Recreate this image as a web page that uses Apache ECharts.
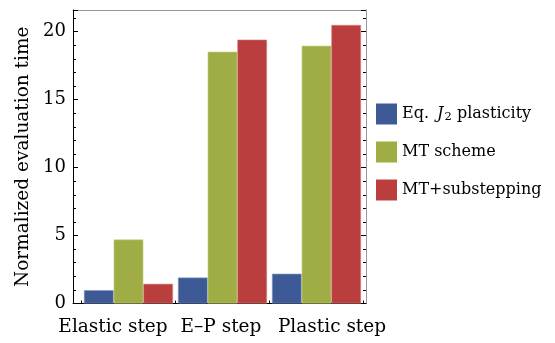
<!DOCTYPE html>
<html>
<head>
<meta charset="utf-8">
<script src="https://cdn.jsdelivr.net/npm/echarts@6/dist/echarts.min.js"></script>
<style>html,body{margin:0;padding:0;background:#fff}#c{width:555px;height:343px}</style>
</head>
<body>
<div id="c"></div>
<script>
var categories = ['Elastic step', 'E\u2013P step', 'Plastic step'];
var seriesNames = ['Eq. J2 plasticity', 'MT scheme', 'MT+substepping'];
var eqJ2 = [0.98, 1.91, 2.19];
var mtScheme = [4.71, 18.53, 18.97];
var mtSub = [1.45, 19.42, 20.5];
var yTicks = [0, 5, 10, 15, 20];
var yTitle = 'Normalized evaluation time';

var colors = ['#3d5a96', '#a0ad45', '#ba3e3e'];
var borders = ['#7f95c0', '#c9d28a', '#d88686'];
var FONT = "'DejaVu Serif', serif";
var YMAX = 21.6;

var chart = echarts.init(document.getElementById('c'), null, {renderer: 'canvas'});

function mkSeries(name, data, i) {
  return {
    name: name, type: 'bar', xAxisIndex: 2, yAxisIndex: 2,
    data: data, barGap: '0%', barCategoryGap: '5.3%',
    itemStyle: {color: colors[i], borderColor: borders[i], borderWidth: 0.6},
    emphasis: {disabled: true}, silent: true
  };
}

var option = {
  animation: false,
  backgroundColor: '#fff',
  grid: [
    {left: 73, top: 10, right: 189, bottom: 39.5},
    {left: 73, top: 10, right: 189, bottom: 39.5},
    {left: 81.5, top: 10, right: 191.5, bottom: 39.5}
  ],
  xAxis: [
    {type: 'value', gridIndex: 0, min: 0, max: 1, position: 'bottom',
     axisLine: {show: true, onZero: false, lineStyle: {color: '#000', width: 1}},
     axisTick: {show: false}, axisLabel: {show: false}, splitLine: {show: false}},
    {type: 'value', gridIndex: 1, min: 0, max: 1, position: 'top',
     axisLine: {show: true, onZero: false, lineStyle: {color: '#999', width: 1}},
     axisTick: {show: false}, axisLabel: {show: false}, splitLine: {show: false}},
    {type: 'category', gridIndex: 2, data: categories, position: 'bottom',
     axisLine: {show: false, onZero: false},
     axisTick: {show: true, inside: true, length: 3, lineStyle: {color: '#000'}},
     axisLabel: {
       interval: 0, hideOverlap: false,
       margin: 14, color: '#000', fontFamily: FONT, fontSize: 18.5,
       formatter: function (v, i) { return '{' + ['a', 'b', 'c'][i] + '|' + v + '}'; },
       rich: {
         a: {fontFamily: FONT, fontSize: 18.5, color: '#000', padding: [0, 31, 0, 0]},
         b: {fontFamily: FONT, fontSize: 18.5, color: '#000', padding: [0, 3, 0, 0]},
         c: {fontFamily: FONT, fontSize: 18.5, color: '#000', padding: [0, 0, 0, 31]}
       }
     },
     splitLine: {show: false}}
  ],
  yAxis: [
    {type: 'value', gridIndex: 0, min: 0, max: YMAX, interval: 5, position: 'left',
     name: yTitle, nameLocation: 'middle', nameGap: 37,
     nameTextStyle: {fontFamily: FONT, fontSize: 18.5, color: '#000'},
     axisLine: {show: true, onZero: false, lineStyle: {color: '#000', width: 1}},
     axisTick: {show: true, inside: true, length: 5, lineStyle: {color: '#000'}},
     minorTick: {show: true, splitNumber: 5, length: 3, lineStyle: {color: '#000'}},
     axisLabel: {margin: 7, color: '#000', fontFamily: FONT, fontSize: 18,
       customValues: yTicks},
     splitLine: {show: false}},
    {type: 'value', gridIndex: 1, min: 0, max: YMAX, interval: 5, position: 'right',
     axisLine: {show: true, onZero: false, lineStyle: {color: '#999', width: 1}},
     axisTick: {show: true, inside: true, length: 5, lineStyle: {color: '#000'}},
     minorTick: {show: true, splitNumber: 5, length: 3, lineStyle: {color: '#000'}},
     axisLabel: {show: false}, splitLine: {show: false}},
    {type: 'value', gridIndex: 2, min: 0, max: YMAX, show: false, splitLine: {show: false}}
  ],
  legend: {
    orient: 'vertical', left: 376, top: 103.5, padding: 0,
    icon: 'rect',
    itemWidth: 21, itemHeight: 21, itemGap: 17, itemStyle: {borderWidth: 0},
    selectedMode: false,
    data: seriesNames,
    formatter: function (n) {
      if (n === seriesNames[0]) return '{n|Eq. }{i|J}{s|2}{n| plasticity}';
      return '{n|' + n + '}';
    },
    textStyle: {
      fontFamily: FONT, fontSize: 16, color: '#000',
      rich: {
        n: {fontFamily: FONT, fontSize: 16, color: '#000'},
        i: {fontFamily: FONT, fontSize: 16, fontStyle: 'italic', color: '#000', padding: [0, 1, 0, 3]},
        s: {fontFamily: FONT, fontSize: 11.5, color: '#000', padding: [7, 0, 0, 0]}
      }
    }
  },
  series: [
    mkSeries(seriesNames[0], eqJ2, 0),
    mkSeries(seriesNames[1], mtScheme, 1),
    mkSeries(seriesNames[2], mtSub, 2)
  ]
};
chart.setOption(option);
</script>
</body>
</html>
